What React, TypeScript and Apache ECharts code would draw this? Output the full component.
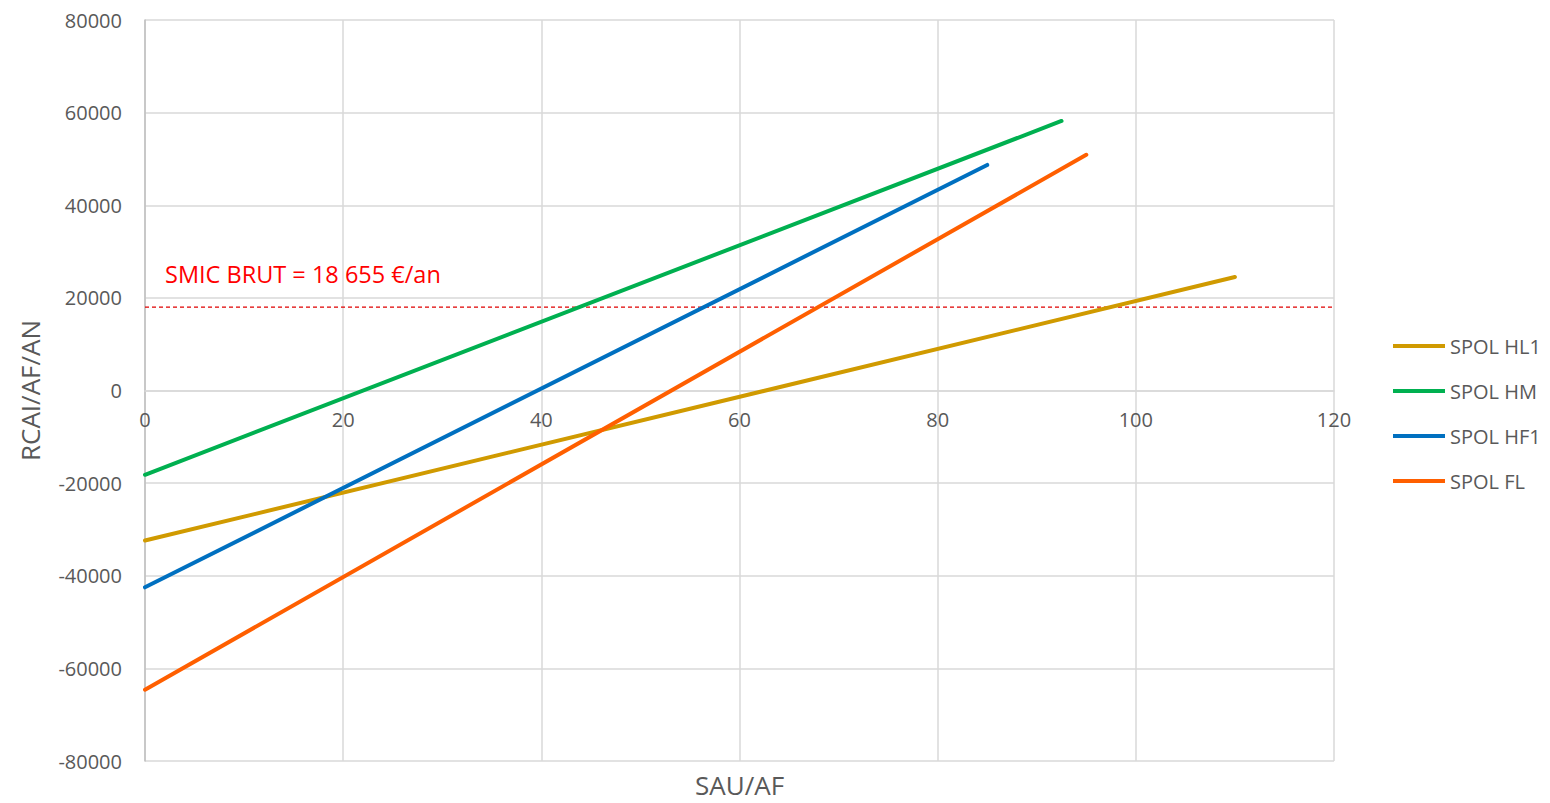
import React, { useEffect, useRef } from "react";
import * as echarts from "echarts";

const seriesNames = ["SPOL HL1", "SPOL HM", "SPOL HF1", "SPOL FL"];
const seriesColors = ["#D09A00", "#00B050", "#0070C0", "#FF5F00"];
const hl1: [number, number][] = [[0, -32400], [110, 24500]];
const hm: [number, number][] = [[0, -18200], [92.5, 58200]];
const hf1: [number, number][] = [[0, -42500], [85, 48700]];
const fl: [number, number][] = [[0, -64600], [95, 50900]];
const seriesData = [hl1, hm, hf1, fl];
const smicValue = 18000;
const smicLine: [number, number][] = [[0, smicValue], [120, smicValue]];
const smicLabel = "SMIC BRUT = 18 655 €/an";
const xTitle = "SAU/AF";
const yTitle = "RCAI/AF/AN";

const FONT = "'Open Sans', 'Noto Sans', sans-serif";
const GRID_TOP = 20;
const GRID_BOTTOM = 42;
const CHART_H = 803;

export default function App() {
  const ref = useRef<HTMLDivElement>(null);
  useEffect(() => {
    if (!ref.current) return;
    const chart = echarts.init(ref.current, null, { renderer: "svg" });
    const plotH = CHART_H - GRID_TOP - GRID_BOTTOM;
    const yMin = -80000;
    const yMax = 80000;
    // shift the x axis (labels) up to the y = 0 line
    const zeroOffset = -plotH * (0 - yMin) / (yMax - yMin);
    const lines = seriesNames.map((name, i) => ({
      name,
      type: "line",
      data: seriesData[i],
      symbol: "none",
      lineStyle: { color: seriesColors[i], width: 4, cap: "round" },
      itemStyle: { color: seriesColors[i] },
      z: 3 + i,
    }));
    chart.setOption({
      animation: false,
      backgroundColor: "#ffffff",
      textStyle: { fontFamily: FONT },
      grid: { left: 145, right: 216, top: GRID_TOP, bottom: GRID_BOTTOM, outerBoundsMode: "none", containLabel: false },
      legend: {
        orient: "vertical",
        left: 1393,
        top: 336,
        padding: 0,
        itemWidth: 52,
        itemHeight: 4,
        itemGap: 25,
        icon: "rect",
        textStyle: { color: "#595959", fontSize: 20, lineHeight: 20, fontFamily: FONT },
        data: seriesNames,
      },
      xAxis: {
        type: "value",
        min: 0,
        max: 120,
        interval: 20,
        offset: zeroOffset,
        axisLine: { show: true, onZero: false, lineStyle: { color: "#d9d9d9", width: 1.5 } },
        axisTick: { show: false },
        axisLabel: { color: "#595959", fontSize: 20, margin: 19, fontFamily: FONT },
        splitLine: { show: true, lineStyle: { color: "#d9d9d9", width: 1.5 } },
      },
      yAxis: {
        type: "value",
        min: yMin,
        max: yMax,
        interval: 20000,
        name: yTitle,
        nameLocation: "middle",
        nameGap: 102,
        nameTextStyle: { color: "#595959", fontSize: 26, fontFamily: FONT },
        axisLine: { show: true, onZero: false, lineStyle: { color: "#bfbfbf", width: 1.5 } },
        axisTick: { show: false },
        axisLabel: {
          color: "#595959",
          fontSize: 20,
          margin: 23,
          fontFamily: FONT,
          formatter: (v: number) => String(v),
        },
        splitLine: { show: true, lineStyle: { color: "#d9d9d9", width: 1.5 } },
      },
      graphic: [
        {
          type: "text",
          left: 165,
          top: 262,
          style: { text: smicLabel, fill: "#FF0000", fontSize: 23.5, fontFamily: FONT },
        },
        {
          type: "text",
          left: 695,
          top: 772,
          style: { text: xTitle, fill: "#595959", fontSize: 26, fontFamily: FONT },
        },
      ],
      series: [
        {
          name: "SMIC",
          type: "line",
          data: smicLine,
          symbol: "none",
          silent: true,
          lineStyle: { color: "#E00000", width: 1.2, type: [4, 3] },
          itemStyle: { color: "#E00000" },
          z: 2,
        },
        ...lines,
      ],
    });
    return () => chart.dispose();
  }, []);
  return (
    <div
      ref={ref}
      style={{ position: "fixed", left: 0, top: 0, width: 1550, height: 803 }}
    />
  );
}
